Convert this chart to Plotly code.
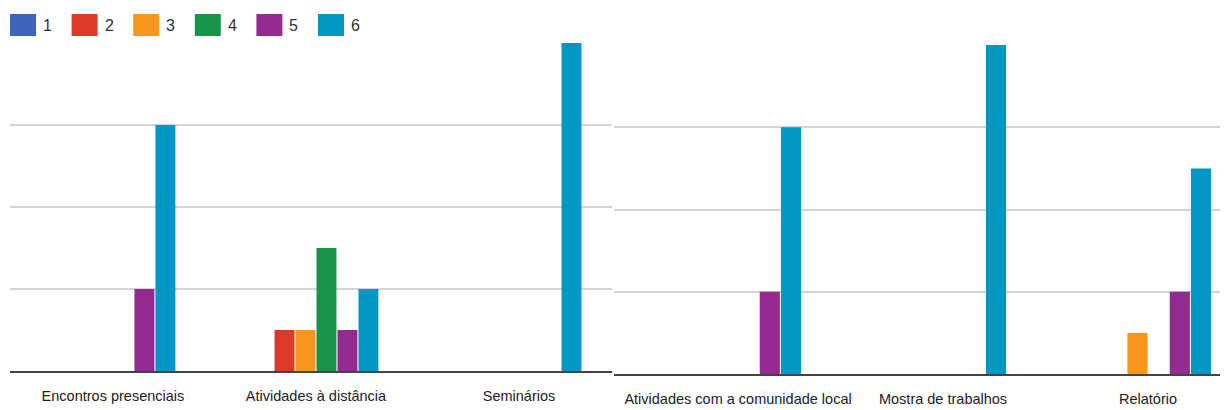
import plotly.graph_objects as go

W, H = 1225, 410

categories_left = ["Encontros presenciais", "Atividades à distância", "Seminários"]
categories_right = ["Atividades com a comunidade local", "Mostra de trabalhos", "Relatório"]
series_names = ["1", "2", "3", "4", "5", "6"]
series_colors = ["#3b66bb", "#db3a26", "#f8961d", "#16944a", "#922a8f", "#0097c5"]
values_left = {
    "1": [0, 0, 0],
    "2": [0, 1, 0],
    "3": [0, 1, 0],
    "4": [0, 3, 0],
    "5": [2, 1, 0],
    "6": [6, 2, 8],
}
values_right = {
    "1": [0, 0, 0],
    "2": [0, 0, 0],
    "3": [0, 0, 1],
    "4": [0, 0, 0],
    "5": [2, 0, 2],
    "6": [6, 8, 5],
}

FONT = "Liberation Sans, Arial, sans-serif"

fig = go.Figure()
for name, color in zip(series_names, series_colors):
    fig.add_trace(go.Bar(x=categories_left, y=values_left[name], name=name,
                         marker=dict(color=color, line=dict(width=0)),
                         xaxis="x", yaxis="y", showlegend=False))
    fig.add_trace(go.Bar(x=categories_right, y=values_right[name], name=name,
                         marker=dict(color=color, line=dict(width=0)),
                         xaxis="x2", yaxis="y2", showlegend=False))

def px_x(p):
    return p / W

def px_y(p):
    return 1 - p / H

axis_common = dict(showgrid=False, zeroline=False, showline=True, linecolor="#444444",
                   linewidth=2, ticks="", ticklabelstandoff=11, tickangle=0,
                   automargin=False,
                   tickfont=dict(family=FONT, size=14.5, color="#222222"))
yaxis_common = dict(range=[0, 8], dtick=2, showgrid=True, gridcolor="#d4d4d4", gridwidth=2,
                    zeroline=False, showticklabels=False, showline=False, automargin=False)

fig.update_layout(
    width=W, height=H, autosize=False,
    margin=dict(l=0, r=0, t=0, b=0, autoexpand=False),
    paper_bgcolor="white", plot_bgcolor="white",
    barmode="group", bargap=0.38, bargroupgap=0.05,
    xaxis=dict(domain=[px_x(10), px_x(612)], range=[-0.507, 2.458], anchor="y", **axis_common),
    xaxis2=dict(domain=[px_x(614), px_x(1220)], range=[-0.605, 2.351], anchor="y2", **axis_common),
    yaxis=dict(domain=[px_y(371), px_y(43)], anchor="x", **yaxis_common),
    yaxis2=dict(domain=[px_y(374), px_y(45)], anchor="x2", **yaxis_common),
)

# legend drawn at the top-left
shapes = []
annotations = []
for i, (name, color) in enumerate(zip(series_names, series_colors)):
    x0 = 10 + 61.6 * i
    shapes.append(dict(type="rect", xref="paper", yref="paper",
                       x0=px_x(x0), x1=px_x(x0 + 26), y0=px_y(36), y1=px_y(14),
                       fillcolor=color, line=dict(width=0)))
    annotations.append(dict(text=name, xref="paper", yref="paper",
                            x=px_x(x0 + 31), y=px_y(25), xanchor="left", yanchor="middle",
                            showarrow=False, font=dict(family=FONT, size=16, color="#333333")))
fig.update_layout(shapes=shapes, annotations=annotations)

fig.write_html("out.html")
